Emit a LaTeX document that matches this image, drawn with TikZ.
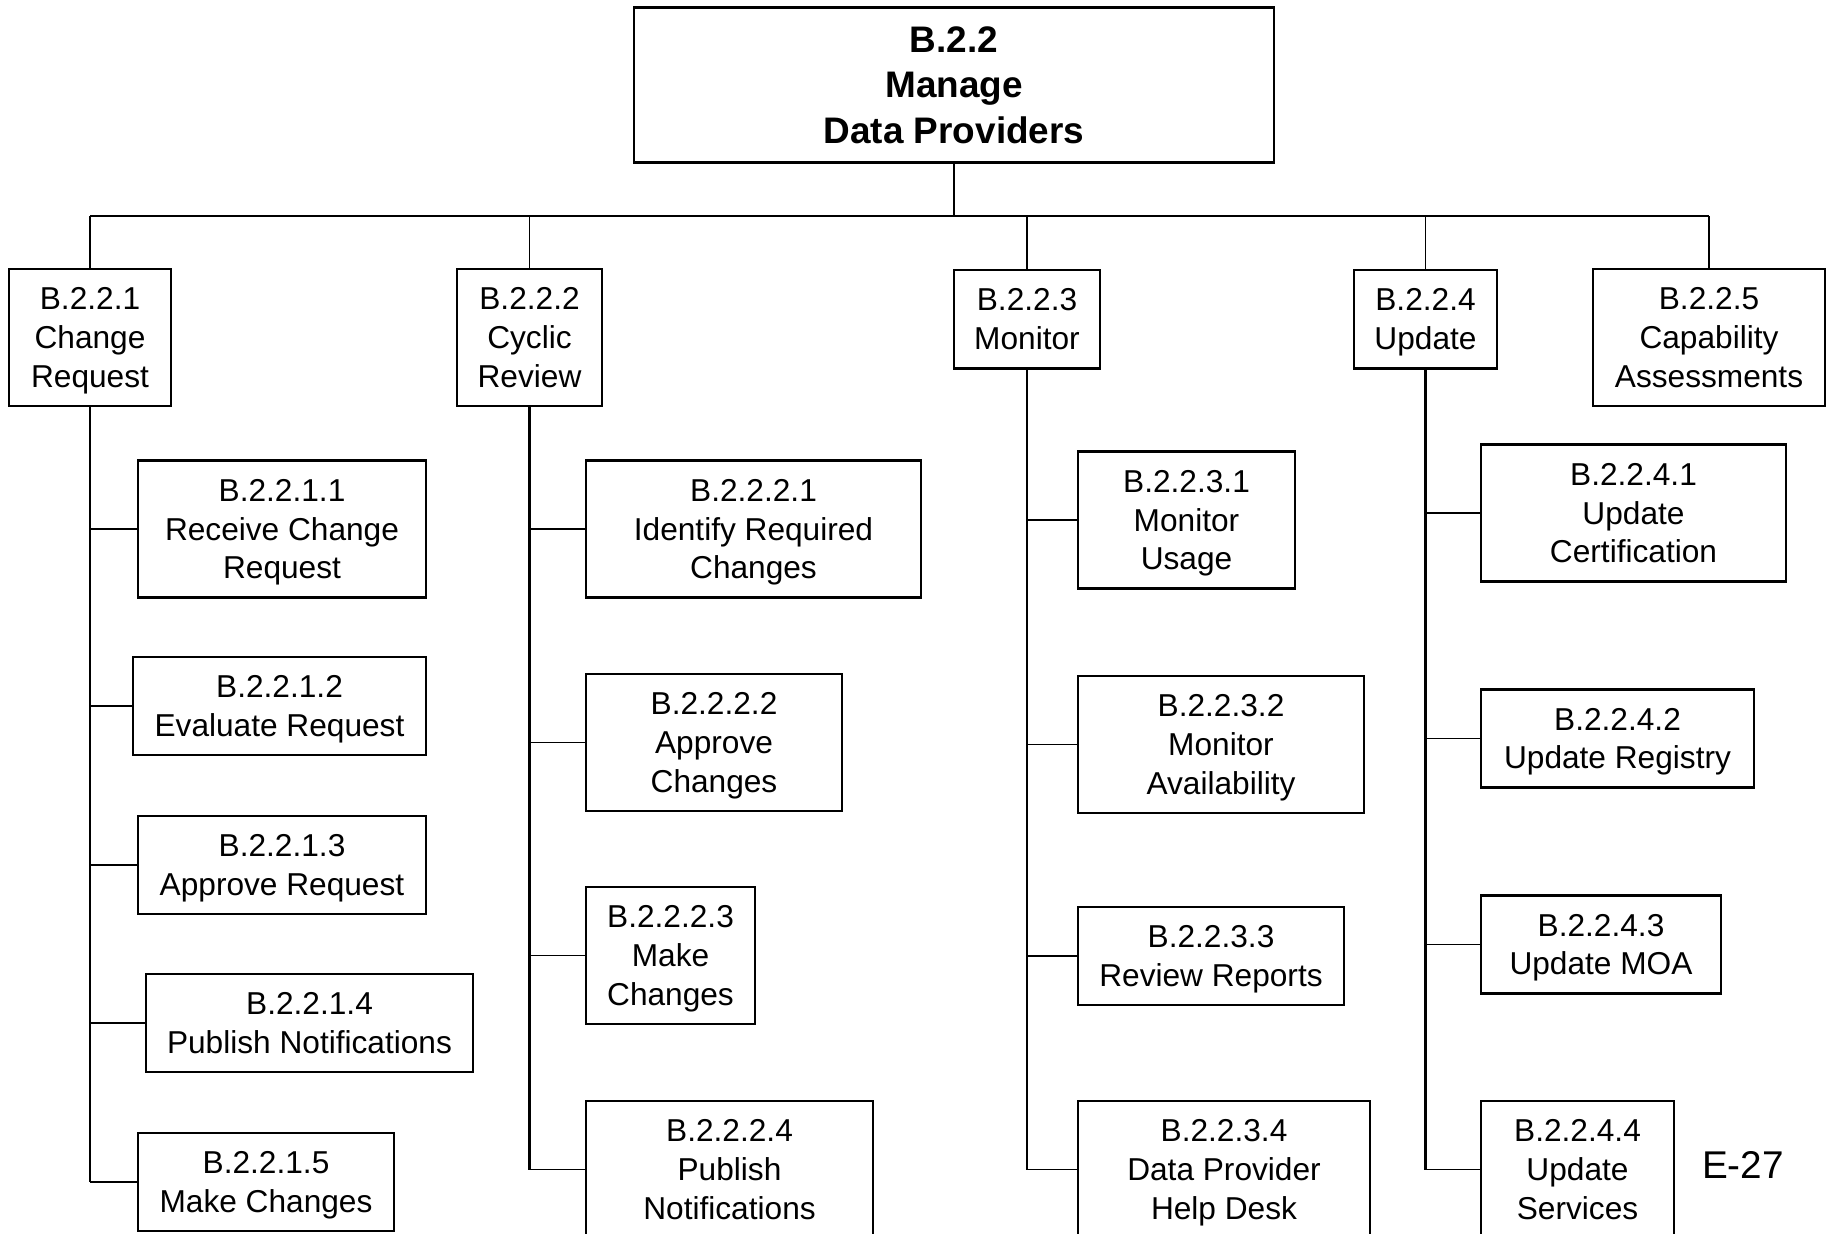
\documentclass[tikz,border=0pt]{standalone}
\usepackage{fontspec}
\setmainfont{Liberation Sans}
\usepackage{tikz}
\usetikzlibrary{positioning,calc}

\begin{document}
\begin{tikzpicture}[x=0.01cm, y=-0.01cm,
    every node/.style={font=\fontsize{9}{11}\selectfont},
    box/.style={draw, line width=0.7pt, inner sep=0pt, align=center, text depth=0pt, minimum height=1.37cm},
    lowbox/.style={box, minimum height=0.98cm},
    spine/.style={line width=0.8pt},
    stub/.style={line width=0.55pt}]
  \useasboundingbox (0,0) rectangle (1833,1233);

  % top
  \node[box, minimum width=6.4cm, minimum height=1.55cm, font=\fontsize{10.5}{12.9}\selectfont\bfseries] (mdp) at (954,85) {B.2.2\\Manage\\Data Providers};

  % second level
  \node[box, minimum width=1.62cm] (cr) at (90,337.5) {B.2.2.1\\Change\\Request};
  \node[box, minimum width=1.45cm] (cyc) at (529.5,337.5) {B.2.2.2\\Cyclic\\Review};
  \node[lowbox, minimum width=1.46cm, anchor=north] (mon) at (1027,269) {B.2.2.3\\Monitor};
  \node[lowbox, minimum width=1.43cm, anchor=north] (upd) at (1425.5,269) {B.2.2.4\\Update};
  \node[box, minimum width=2.32cm] (cap) at (1709,337.5) {B.2.2.5\\Capability\\Assessments};

  % change request
  \node[box, minimum width=2.88cm] (rcr) at (282,529) {B.2.2.1.1\\Receive Change\\Request};
  \node[lowbox, minimum width=2.93cm] (evr) at (279.5,706) {B.2.2.1.2\\Evaluate Request};
  \node[lowbox, minimum width=2.88cm] (apr) at (282,865) {B.2.2.1.3\\Approve Request};
  \node[lowbox, minimum width=3.27cm] (pbn) at (309.5,1023) {B.2.2.1.4\\Publish Notifications};
  \node[lowbox, minimum width=2.56cm] (mkc) at (266,1182) {B.2.2.1.5\\Make Changes};

  % cyclic review
  \node[box, minimum width=3.35cm] (irc) at (753.5,529) {B.2.2.2.1\\Identify Required\\Changes};
  \node[box, minimum width=2.56cm] (apc) at (714,742.5) {B.2.2.2.2\\Approve\\Changes};
  \node[box, minimum width=1.69cm] (mch) at (670.5,955.5) {B.2.2.2.3\\Make\\Changes};
  \node[box, minimum width=2.87cm] (pnt) at (729.5,1169.5) {B.2.2.2.4\\Publish\\Notifications};

  % monitor
  \node[box, minimum width=2.17cm] (mus) at (1186.5,520) {B.2.2.3.1\\Monitor\\Usage};
  \node[box, minimum width=2.86cm] (mav) at (1221,744.5) {B.2.2.3.2\\Monitor\\Availability};
  \node[lowbox, minimum width=2.66cm] (rvr) at (1211,956) {B.2.2.3.3\\Review Reports};
  \node[box, minimum width=2.92cm] (hdk) at (1224,1169.5) {B.2.2.3.4\\Data Provider\\Help Desk};

  % update
  \node[box, minimum width=3.05cm] (ucf) at (1633.5,513) {B.2.2.4.1\\Update\\Certification};
  \node[lowbox, minimum width=2.73cm] (urg) at (1617.5,738.5) {B.2.2.4.2\\Update Registry};
  \node[lowbox, minimum width=2.40cm] (umoa) at (1601,944.5) {B.2.2.4.3\\Update MOA};
  \node[box, minimum width=1.93cm] (usv) at (1577.5,1169.5) {B.2.2.4.4\\Update\\Services};

  \node[font=\fontsize{11}{13}\selectfont] (pg) at (1743,1165) {E-27};

  % bus
  \coordinate (bus) at (954,216);
  \draw[spine] (mdp.south) -- (bus);
  \draw[stub] (cr.north |- bus) -- (cap.north |- bus);
  \draw[stub] (cr.north |- bus) -- (cr.north);
  \draw[stub] (cyc.north |- bus) -- (cyc.north);
  \draw[stub] (mon.north |- bus) -- (mon.north);
  \draw[stub] (upd.north |- bus) -- (upd.north);
  \draw[stub] (cap.north |- bus) -- (cap.north);

  % spines
  \draw[spine] (cr.south) -- (cr.south |- mkc.west);
  \draw[spine] (cyc.south) -- (cyc.south |- pnt.west);
  \draw[spine] (mon.south) -- (mon.south |- hdk.west);
  \draw[spine] (upd.south) -- (upd.south |- usv.west);

  % stubs
  \draw[stub] (cr.south |- rcr.west) -- (rcr.west);
  \draw[stub] (cr.south |- evr.west) -- (evr.west);
  \draw[stub] (cr.south |- apr.west) -- (apr.west);
  \draw[stub] (cr.south |- pbn.west) -- (pbn.west);
  \draw[stub] (cr.south |- mkc.west) -- (mkc.west);
  \draw[stub] (cyc.south |- irc.west) -- (irc.west);
  \draw[stub] (cyc.south |- apc.west) -- (apc.west);
  \draw[stub] (cyc.south |- mch.west) -- (mch.west);
  \draw[stub] (cyc.south |- pnt.west) -- (pnt.west);
  \draw[stub] (mon.south |- mus.west) -- (mus.west);
  \draw[stub] (mon.south |- mav.west) -- (mav.west);
  \draw[stub] (mon.south |- rvr.west) -- (rvr.west);
  \draw[stub] (mon.south |- hdk.west) -- (hdk.west);
  \draw[stub] (upd.south |- ucf.west) -- (ucf.west);
  \draw[stub] (upd.south |- urg.west) -- (urg.west);
  \draw[stub] (upd.south |- umoa.west) -- (umoa.west);
  \draw[stub] (upd.south |- usv.west) -- (usv.west);
\end{tikzpicture}
\end{document}
